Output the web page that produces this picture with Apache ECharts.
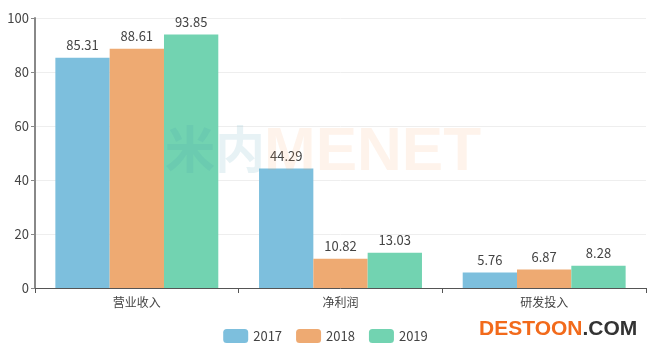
<!DOCTYPE html>
<html><head><meta charset="utf-8">
<script src="https://cdn.jsdelivr.net/npm/echarts@6/dist/echarts.min.js"></script>
<style>html,body{margin:0;padding:0;background:#fff}#c{width:651px;height:352px}</style>
</head><body><div id="c"></div>
<script>
const categories = ['营业收入', '净利润', '研发投入'];
const seriesNames = ['2017', '2018', '2019'];
const v2017 = [85.31, 44.29, 5.76];
const v2018 = [88.61, 10.82, 6.87];
const v2019 = [93.85, 13.03, 8.28];
const yTicks = [0, 20, 40, 60, 80, 100];
const colors = ['#7dbfdd', '#eeaa72', '#72d3b1'];

const chart = echarts.init(document.getElementById('c'));
const font = '"Microsoft YaHei","Noto Sans CJK SC",sans-serif';
const mk = (name, data, i) => ({
  name, type: 'bar', data, barGap: 0, barCategoryGap: '20%',
  itemStyle: { color: colors[i] },
  label: { show: true, position: 'top', color: '#444', fontSize: 13, fontFamily: font, distance: 6 }
});
chart.setOption({
  animation: false,
  textStyle: { fontFamily: font },
  grid: { left: 35, right: 5, top: 18, bottom: 64 },
  legend: {
    bottom: 4, left: 'center', itemWidth: 25, itemHeight: 14, itemGap: 14,
    textStyle: { color: '#444', fontSize: 13, fontFamily: font },
    data: seriesNames
  },
  xAxis: {
    type: 'category', data: categories,
    axisLine: { lineStyle: { color: '#555' } },
    axisTick: { show: true, lineStyle: { color: '#555' } },
    axisLabel: { color: '#444', fontSize: 12, margin: 8 }
  },
  yAxis: {
    type: 'value', min: yTicks[0], max: yTicks[yTicks.length - 1], interval: 20,
    axisLine: { show: true, lineStyle: { color: '#888', width: 2 } },
    axisTick: { show: true, length: 4, lineStyle: { color: '#888' } },
    axisLabel: { color: '#444', fontSize: 13, margin: 6 },
    splitLine: { lineStyle: { color: '#eeeeee' } }
  },
  graphic: [
    { type: 'text', left: 165, top: 124, z: 100, silent: true,
      style: { text: '米内', font: 'bold 50px "Noto Sans CJK SC"', fill: 'rgba(60,150,170,0.12)' } },
    { type: 'text', left: 264, top: 122, z: 100, silent: true,
      style: { text: 'MENET', font: 'bold 62px "Liberation Sans"', fill: 'rgba(245,160,90,0.12)' } },
    { type: 'text', left: 479, top: 319, z: 100, silent: true,
      style: {
        text: '{a|DESTOON}{b|.COM}',
        rich: {
          a: { font: 'bold 21px "Liberation Sans"', fill: '#f26a1b' },
          b: { font: 'bold 21px "Liberation Sans"', fill: '#333333' }
        }
      } }
  ],
  series: [mk(seriesNames[0], v2017, 0), mk(seriesNames[1], v2018, 1), mk(seriesNames[2], v2019, 2)]
});
</script></body></html>
